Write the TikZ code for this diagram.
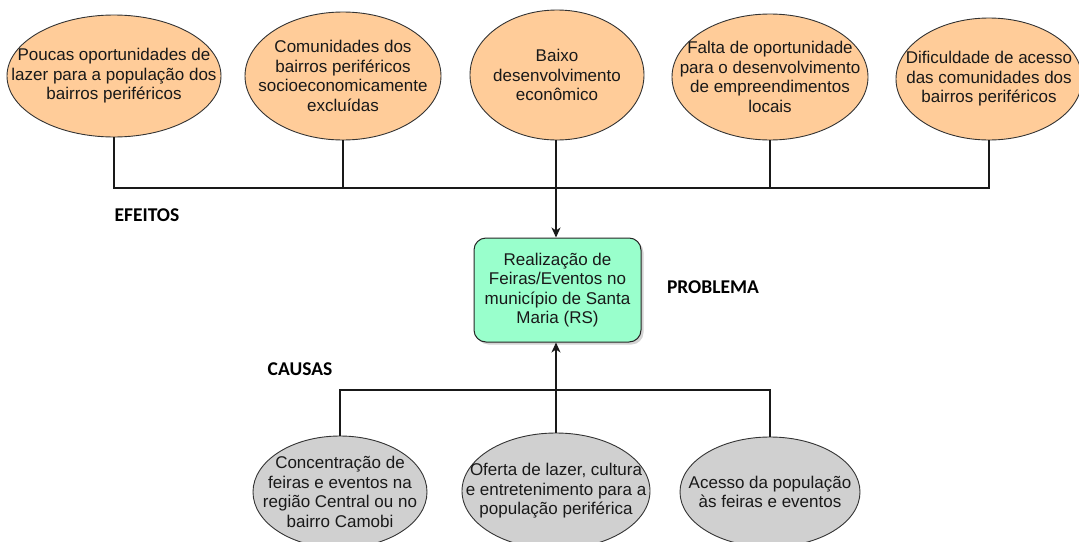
\documentclass[tikz,border=0pt]{standalone}
\usepackage{fontspec}
\setmainfont{Liberation Sans}
\newfontfamily\labfont{Carlito}
\usetikzlibrary{shapes.geometric,arrows.meta,shadows}
\definecolor{orangefill}{HTML}{FFCC99}
\definecolor{greenfill}{HTML}{99FFCC}
\definecolor{grayfill}{HTML}{D0D0D0}
\definecolor{edgecol}{HTML}{333333}
\begin{document}
\begin{tikzpicture}[x=1pt,y=-1pt,
  effect/.style={ellipse,draw=edgecol,line width=0.9pt,fill=orangefill,inner sep=0pt},
  cause/.style={ellipse,draw=edgecol,line width=0.9pt,fill=grayfill,inner sep=0pt},
  txt/.style={align=center,font=\fontsize{17}{19.6}\selectfont,text=black!90,inner sep=0pt},
  probbox/.style={draw=black!85,line width=1pt,fill=greenfill,rounded corners=12pt,
    minimum width=167pt,minimum height=104pt,inner sep=0pt,
    drop shadow={shadow xshift=2.5pt,shadow yshift=-2.5pt,opacity=0.35}},
  lab/.style={font=\labfont\bfseries\fontsize{19.5}{21}\selectfont,inner sep=0pt},
  conn/.style={draw=black!90,line width=1.1pt},
  arr/.style={conn,-{Stealth[length=10pt,width=9pt,inset=3pt]}}
]
\useasboundingbox (0,0) rectangle (1079,541);

% effects
\node[effect,minimum width=214pt,minimum height=122pt] (e1) at (114,76) {};
\node[effect,minimum width=196pt,minimum height=128pt] (e2) at (343,76) {};
\node[effect,minimum width=174pt,minimum height=130pt] (e3) at (557,75) {};
\node[effect,minimum width=196pt,minimum height=126pt] (e4) at (770,77) {};
\node[effect,minimum width=186pt,minimum height=122pt] (e5) at (989,79) {};

\node[txt] (t1) at (e1) {Poucas oportunidades de\\lazer para a população dos\\bairros periféricos};
\node[txt] (t2) at (e2) {Comunidades dos\\bairros periféricos\\socioeconomicamente\\excluídas};
\node[txt] (t3) at (e3) {Baixo\\desenvolvimento\\econômico};
\node[txt] (t4) at (e4) {Falta de oportunidade\\para o desenvolvimento\\de empreendimentos\\locais};
\node[txt] (t5) at (e5) {Dificuldade de acesso\\das comunidades dos\\bairros periféricos};

% problem
\node[probbox] (p) at (557.5,290) {};
\node[txt] (pt) at (p) {Realização de\\Feiras/Eventos no\\município de Santa\\Maria (RS)};

% causes
\node[cause,minimum width=174pt,minimum height=112pt] (c1) at (340,492) {};
\node[cause,minimum width=188pt,minimum height=116pt] (c2) at (556,491) {};
\node[cause,minimum width=180pt,minimum height=110pt] (c3) at (770,492) {};

\node[txt] (ct1) at (c1) {Concentração de\\feiras e eventos na\\região Central ou no\\bairro Camobi};
\node[txt] (ct2) at (c2) {Oferta de lazer, cultura\\e entretenimento para a\\população periférica};
\node[txt] (ct3) at (c3) {Acesso da população\\às feiras e eventos};

% labels
\node[lab] (lef) at (147,215) {EFEITOS};
\node[lab] (lpr) at (713,287) {PROBLEMA};
\node[lab] (lca) at (300,369) {CAUSAS};

% connectors top
\coordinate (jt) at (556,188);
\coordinate (jb) at (556,390);
\draw[conn] (e1.south) -- (e1.south |- jt) -- (e5.south |- jt) -- (e5.south);
\draw[conn] (e2.south) -- (e2.south |- jt);
\draw[conn] (e3.south -| jt) -- (jt);
\draw[conn] (e4.south) -- (e4.south |- jt);
\draw[arr] (jt) -- (p.north -| jt);

% connectors bottom
\draw[conn] (c1.north) -- (c1.north |- jb) -- (c3.north |- jb) -- (c3.north);
\draw[conn] (c2.north -| jb) -- (jb);
\draw[arr] (jb) -- (p.south -| jb);
\end{tikzpicture}
\end{document}
